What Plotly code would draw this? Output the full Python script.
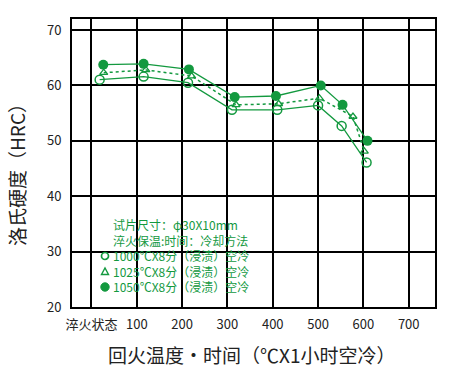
import plotly.graph_objects as go

# tick labels
x_tickvals = [0, 100, 200, 300, 400, 500, 600, 700]
x_ticktext = ["淬火状态", "100", "200", "300", "400", "500", "600", "700"]
y_tickvals = [20, 30, 40, 50, 60, 70]

# series: 1000°C (open circle)
x_1000 = [18, 115, 213, 310, 410, 500, 552, 607]
y_1000 = [61.05, 61.6, 60.5, 55.6, 55.6, 56.4, 52.7, 46.1]
# 1025°C (open triangle, dotted)
x_1025 = [27, 120, 221, 319, 413, 503, 577, 602]
y_1025 = [62.3, 62.8, 61.7, 56.5, 56.7, 57.7, 54.4, 48.1]
# 1050°C (filled circle)
x_1050 = [26, 115, 215, 316, 407, 506, 554, 609]
y_1050 = [63.75, 63.9, 62.9, 57.9, 58.1, 60.0, 56.5, 50.0]

legend_text = [
    "试片尺寸：φ30X10mm",
    "淬火保温:时间：冷却方法",
    "1000℃X8分（浸渍）空冷",
    "1025℃X8分（浸渍）空冷",
    "1050℃X8分（浸渍）空冷",
]

GREEN = "#13993f"
FONT = "Noto Sans CJK SC, Noto Sans, sans-serif"

L, R, T, B = 72, 15, 19, 71
W, H = 450 - L - R, 378 - T - B


def px2paper(px, py):
    return (px - L) / W, 1 - (py - T) / H


fig = go.Figure()
fig.add_trace(go.Scatter(x=x_1000, y=y_1000, mode="lines+markers",
                         line=dict(color=GREEN, width=1.3),
                         marker=dict(symbol="circle-open", size=9, color=GREEN, line=dict(width=1.5))))
fig.add_trace(go.Scatter(x=x_1025, y=y_1025, mode="lines+markers",
                         line=dict(color=GREEN, width=1.5, dash="dot"),
                         marker=dict(symbol="triangle-up-open", size=7, color=GREEN, line=dict(width=1.3))))
fig.add_trace(go.Scatter(x=x_1050, y=y_1050, mode="lines+markers",
                         line=dict(color=GREEN, width=1.3),
                         marker=dict(symbol="circle", size=10, color=GREEN)))

ax, ay = px2paper(112, 215)
fig.add_annotation(x=ax, y=ay, xref="paper", yref="paper",
                   xanchor="left", yanchor="top", align="left",
                   text="<br>".join(legend_text), showarrow=False,
                   font=dict(family=FONT, size=12, color=GREEN), borderpad=0)

# legend keys (shapes in paper coordinates)
cx = 105
x0, y0 = px2paper(cx - 3.5, 256 - 3.5)
x1, y1 = px2paper(cx + 3.5, 256 + 3.5)
fig.add_shape(type="circle", xref="paper", yref="paper", x0=x0, x1=x1, y0=y1, y1=y0,
              line=dict(color=GREEN, width=1.7), fillcolor="white")
pa = px2paper(cx - 3.5, 274.5)
pb = px2paper(cx + 3.5, 274.5)
pc = px2paper(cx, 268)
fig.add_shape(type="path", xref="paper", yref="paper",
              path=f"M {pa[0]} {pa[1]} L {pb[0]} {pb[1]} L {pc[0]} {pc[1]} Z",
              line=dict(color=GREEN, width=1.4), fillcolor="white")
x0, y0 = px2paper(cx - 4.2, 287 - 4.2)
x1, y1 = px2paper(cx + 4.2, 287 + 4.2)
fig.add_shape(type="circle", xref="paper", yref="paper", x0=x0, x1=x1, y0=y1, y1=y0,
              line=dict(color=GREEN, width=1), fillcolor=GREEN)

# axis titles
tx, ty = px2paper(251, 354)
fig.add_annotation(x=tx, y=ty, xref="paper", yref="paper", xanchor="center", yanchor="middle",
                   text="回火温度·时间（℃X1小时空冷）", showarrow=False,
                   font=dict(family=FONT, size=19, color="#222"))
tx, ty = px2paper(16, 170)
fig.add_annotation(x=tx, y=ty, xref="paper", yref="paper", xanchor="center", yanchor="middle",
                   text="洛氏硬度（HRC）", showarrow=False, textangle=-90,
                   font=dict(family=FONT, size=19, color="#222"))

fig.update_layout(
    width=450, height=378,
    margin=dict(l=L, r=R, t=T, b=B, autoexpand=False),
    paper_bgcolor="white", plot_bgcolor="white",
    showlegend=False,
    font=dict(family=FONT, color="#222"),
)
fig.update_xaxes(range=[-43, 758], tickvals=x_tickvals, ticktext=x_ticktext,
                 showgrid=True, gridcolor="black", gridwidth=1.5,
                 showline=True, linecolor="black", linewidth=2, mirror=True,
                 zeroline=False, ticks="", tickfont=dict(size=13, family=FONT),
                 ticklabelstandoff=4, automargin=False)
fig.update_yaxes(range=[20, 72], tickvals=y_tickvals,
                 showgrid=True, gridcolor="black", gridwidth=1.5,
                 showline=True, linecolor="black", linewidth=2, mirror=True,
                 zeroline=False, ticks="", tickfont=dict(size=13, family=FONT),
                 ticklabelstandoff=6, automargin=False)

fig.write_html("out.html", config={"displayModeBar": False},
               post_script="document.body.style.margin='0';")
